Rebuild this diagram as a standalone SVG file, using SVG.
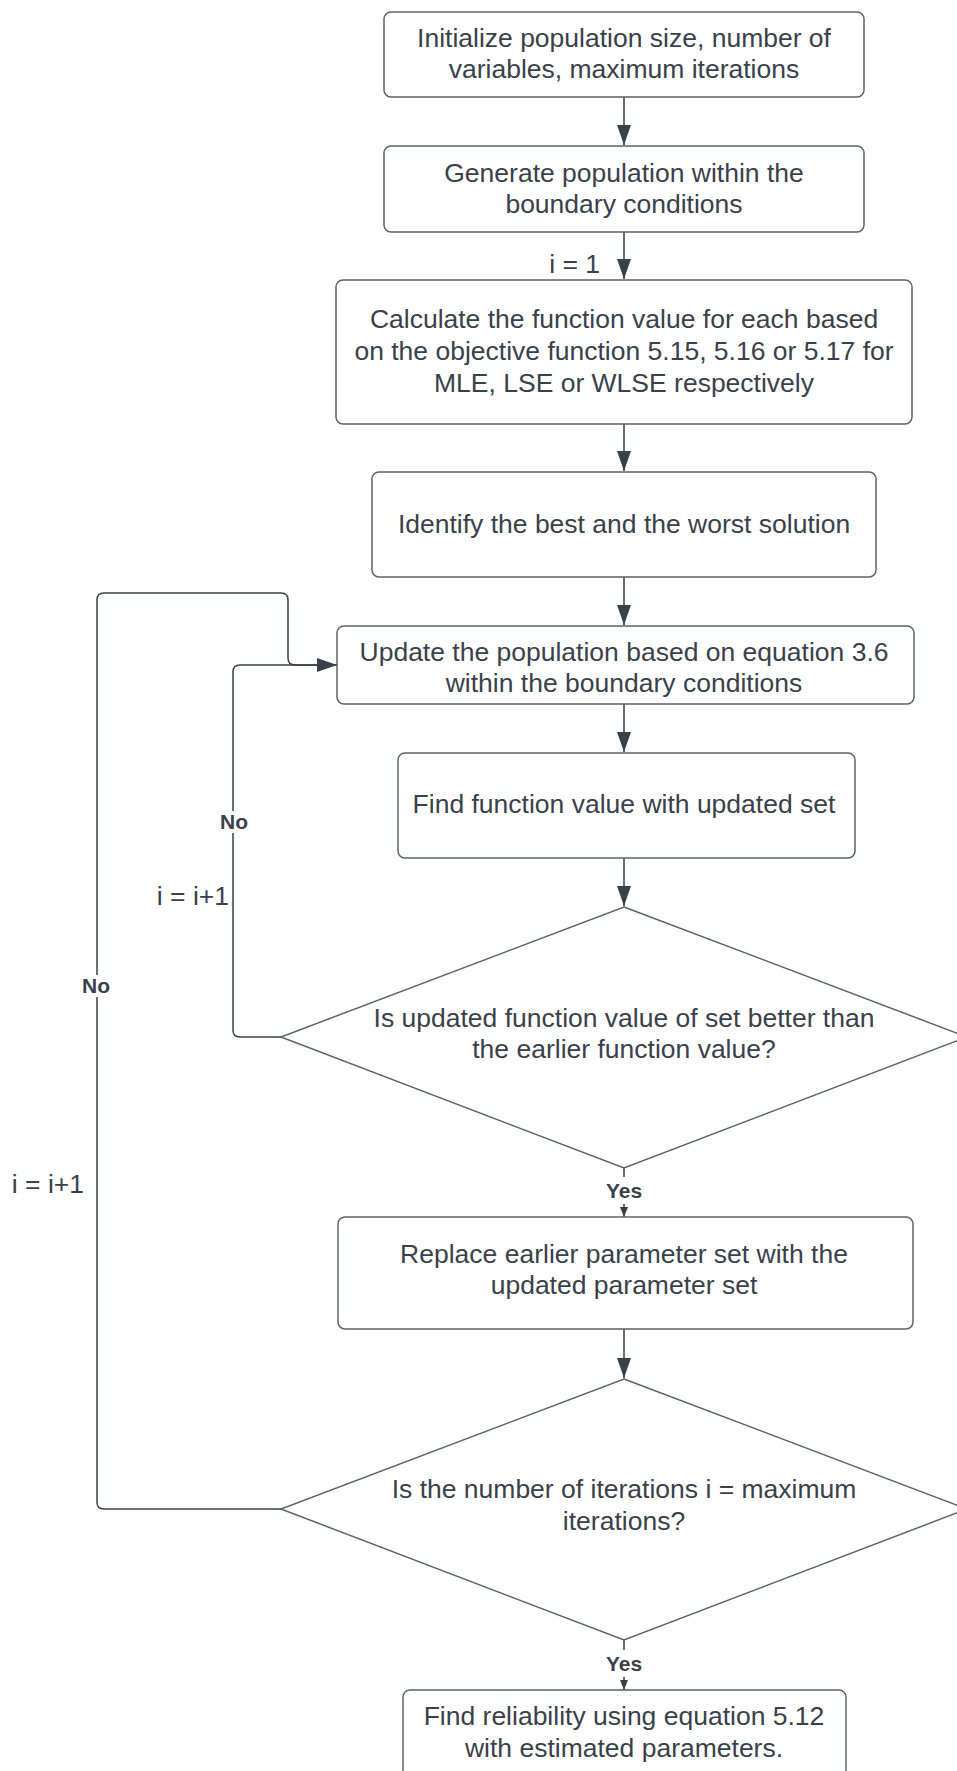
<svg xmlns="http://www.w3.org/2000/svg" width="957" height="1771" viewBox="0 0 957 1771">
  <style>
    .box { fill: #ffffff; stroke: #5d636b; stroke-width: 1.5; }
    .txt { font-family: "Liberation Sans", Arial, sans-serif; font-size: 26.5px; fill: #3a414a; text-anchor: middle; }
    .lbl { font-family: "Liberation Sans", Arial, sans-serif; font-size: 21px; font-weight: bold; fill: #3a414a; text-anchor: middle; }
    .edge { fill: none; stroke: #3a414a; stroke-width: 1.5; stroke-linejoin: round; }
    .gap { fill: #ffffff; }
  </style>
  <defs>
    <marker id="head" markerUnits="userSpaceOnUse" viewBox="0 0 20 14" refX="20" refY="7" markerWidth="20" markerHeight="14" orient="auto">
      <path d="M0,0 L20,7 L0,14 Z" fill="#3a414a"/>
    </marker>
    <marker id="headSmall" markerUnits="userSpaceOnUse" viewBox="0 0 10 8" refX="10" refY="4" markerWidth="10" markerHeight="8" orient="auto">
      <path d="M0,0 L10,4 L0,8 Z" fill="#3a414a"/>
    </marker>
  </defs>
  <rect width="957" height="1771" fill="#ffffff"/>

  <g id="connectors">
    <path class="edge" d="M624,97 V145" marker-end="url(#head)"/>
    <path class="edge" d="M624,232 V279" marker-end="url(#head)"/>
    <path class="edge" d="M624,424 V471" marker-end="url(#head)"/>
    <path class="edge" d="M624,577 V625" marker-end="url(#head)"/>
    <path class="edge" d="M624,704 V752" marker-end="url(#head)"/>
    <path class="edge" d="M624,858 V906" marker-end="url(#head)"/>
    <path class="edge" d="M624,1168 V1177"/>
    <path class="edge" d="M624,1204 V1217" marker-end="url(#headSmall)"/>
    <path class="edge" d="M624,1329 V1378" marker-end="url(#head)"/>
    <path class="edge" d="M624,1640 V1650"/>
    <path class="edge" d="M624,1677 V1690" marker-end="url(#headSmall)"/>
    <!-- inner loop: not better -> update again -->
    <path class="edge" d="M281,1037 H240 Q233,1037 233,1030 V672 Q233,665 240,665 H337" marker-end="url(#head)"/>
    <!-- outer loop: not finished -> update again -->
    <path class="edge" d="M281,1509 H104 Q97,1509 97,1502 V600 Q97,593 104,593 H281 Q288,593 288,600 V658 Q288,665 295,665 H337"/>
    <!-- edge labels -->
    <rect class="gap" x="218" y="811" width="32" height="22"/>
    <text class="lbl" x="234" y="829">No</text>
    <rect class="gap" x="81" y="975" width="32" height="22"/>
    <text class="lbl" x="96" y="993">No</text>
    <text class="lbl" x="624" y="1198">Yes</text>
    <text class="lbl" x="624" y="1671">Yes</text>
    <text class="txt" x="600" y="273" style="text-anchor:end">i = 1</text>
    <text class="txt" x="229" y="905" style="text-anchor:end">i = i+1</text>
    <text class="txt" x="84" y="1193" style="text-anchor:end">i = i+1</text>
  </g>

  <g id="init">
    <rect class="box" x="384" y="12" width="480" height="85" rx="7"/>
    <text class="txt" x="624" y="47">Initialize population size, number of</text>
    <text class="txt" x="624" y="78">variables, maximum iterations</text>
  </g>

  <g id="generate">
    <rect class="box" x="384" y="146" width="480" height="86" rx="7"/>
    <text class="txt" x="624" y="182">Generate population within the</text>
    <text class="txt" x="624" y="213">boundary conditions</text>
  </g>

  <g id="evaluate">
    <rect class="box" x="336" y="280" width="576" height="144" rx="7"/>
    <text class="txt" x="624" y="328">Calculate the function value for each based</text>
    <text class="txt" x="624" y="360">on the objective function 5.15, 5.16 or 5.17 for</text>
    <text class="txt" x="624" y="392">MLE, LSE or WLSE respectively</text>
  </g>

  <g id="identify">
    <rect class="box" x="372" y="472" width="504" height="105" rx="7"/>
    <text class="txt" x="624" y="533">Identify the best and the worst solution</text>
  </g>

  <g id="update">
    <rect class="box" x="337" y="626" width="577" height="78" rx="7"/>
    <text class="txt" x="624" y="661">Update the population based on equation 3.6</text>
    <text class="txt" x="624" y="692">within the boundary conditions</text>
  </g>

  <g id="find-value">
    <rect class="box" x="398" y="753" width="457" height="105" rx="7"/>
    <text class="txt" x="624" y="813">Find function value with updated set</text>
  </g>

  <g id="better-check">
    <polygon class="box" points="624,907 967,1037 624,1168 281,1037"/>
    <text class="txt" x="624" y="1027">Is updated function value of set better than</text>
    <text class="txt" x="624" y="1058">the earlier function value?</text>
  </g>

  <g id="replace">
    <rect class="box" x="338" y="1217" width="575" height="112" rx="7"/>
    <text class="txt" x="624" y="1263">Replace earlier parameter set with the</text>
    <text class="txt" x="624" y="1294">updated parameter set</text>
  </g>

  <g id="iteration-check">
    <polygon class="box" points="624,1379 967,1509 624,1640 281,1509"/>
    <text class="txt" x="624" y="1498">Is the number of iterations i = maximum</text>
    <text class="txt" x="624" y="1530">iterations?</text>
  </g>

  <g id="reliability">
    <rect class="box" x="403" y="1690" width="443" height="100" rx="7"/>
    <text class="txt" x="624" y="1725">Find reliability using equation 5.12</text>
    <text class="txt" x="624" y="1757">with estimated parameters.</text>
  </g>
</svg>
